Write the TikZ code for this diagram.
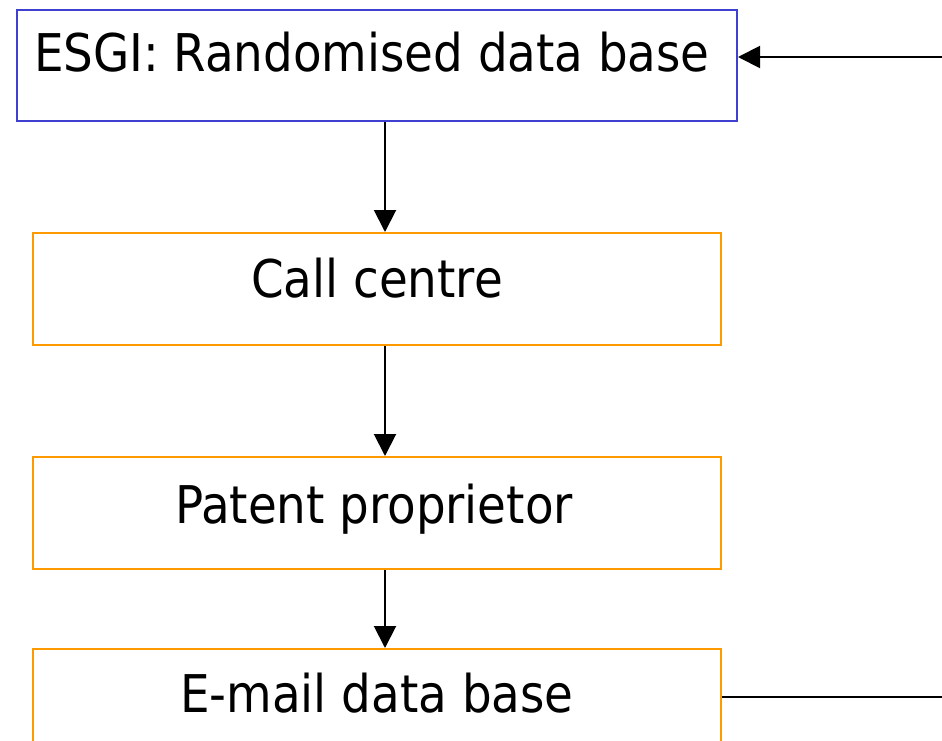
\documentclass[tikz,border=0pt]{standalone}
\usepackage{fontspec}
\setmainfont{DejaVu Sans Condensed}
\usetikzlibrary{arrows.meta}
\definecolor{boxblue}{RGB}{64,64,208}
\definecolor{boxorange}{RGB}{255,153,0}
\begin{document}
\begin{tikzpicture}[x=1pt,y=-1pt,
  box/.style={draw,rectangle,line width=2pt,inner sep=0pt,fill=white},
  lbl/.style={anchor=base,inner sep=0pt,font=\fontsize{52}{62}\selectfont},
  arr/.style={line width=2pt,-{Triangle[length=22pt 0 0,width=22pt 0 0]}},
  plain/.style={line width=2pt}]
\useasboundingbox (0,0) rectangle (942,741);
\clip (0,0) rectangle (942,741);
\node[box,draw=boxblue,minimum width=720pt,minimum height=111pt] (b1) at (377,65.5) {};
\node[box,draw=boxorange,minimum width=688pt,minimum height=112pt] (b2) at (377,289) {};
\node[box,draw=boxorange,minimum width=688pt,minimum height=112pt] (b3) at (377,513) {};
\node[box,draw=boxorange,minimum width=688pt,minimum height=112pt] (b4) at (377,705) {};
\node[lbl] (t1) at (372,72) {ESGI: Randomised data base};
\node[lbl] (t2) at (377,297) {Call centre};
\node[lbl] (t3) at (374,523) {Patent proprietor};
\node[lbl] (t4) at (377,712) {E-mail data base};
\draw[arr] ([xshift=8pt]b1.south) -- ([xshift=8pt]b2.north);
\draw[arr] ([xshift=8pt]b2.south) -- ([xshift=8pt]b3.north);
\draw[arr] ([xshift=8pt]b3.south) -- ([xshift=8pt]b4.north);
\coordinate (r1) at (942,57);
\coordinate (r2) at (942,697);
\draw[arr] (r1) -- (b1.east |- r1);
\draw[plain] (b4.east |- r2) -- (r2);
\end{tikzpicture}
\end{document}
